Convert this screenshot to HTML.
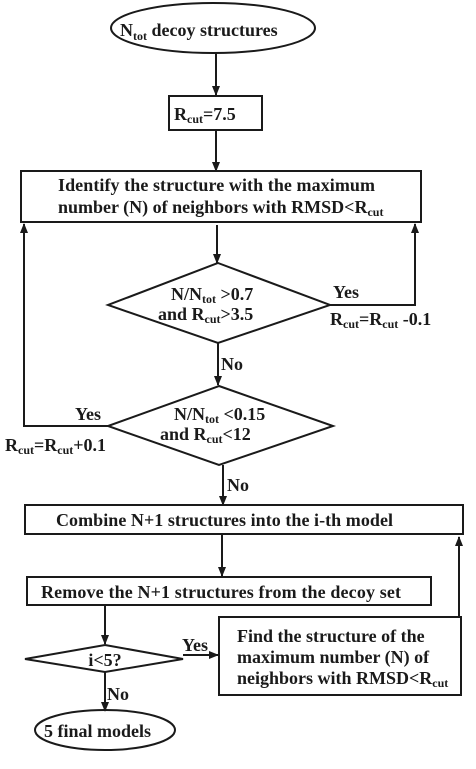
<!DOCTYPE html>
<html><head><meta charset="utf-8"><style>
html,body{margin:0;padding:0;background:#fff;}
svg{display:block;}
text{font-family:"Liberation Serif",serif;font-weight:bold;font-size:18px;fill:#1a1a1a;}
.s{font-size:12px;}
</style></head><body>
<svg width="476" height="769" viewBox="0 0 476 769" xmlns="http://www.w3.org/2000/svg">
<defs><marker id="a" markerWidth="10" markerHeight="10" refX="9" refY="5" orient="auto" markerUnits="userSpaceOnUse"><path d="M0,1 L10,5 L0,9 z" fill="#1a1a1a"/></marker></defs>
<g stroke="#1a1a1a" stroke-width="2" fill="none">
<ellipse cx="213" cy="28" rx="102" ry="25"/>
<line x1="216" y1="53" x2="216" y2="95" marker-end="url(#a)"/>
<rect x="169" y="96" width="93" height="34"/>
<line x1="216" y1="130" x2="216" y2="171" marker-end="url(#a)"/>
<rect x="21" y="171" width="400" height="51"/>
<line x1="217" y1="225" x2="217" y2="263" marker-end="url(#a)"/>
<polygon points="218,263 330,305 218,343 108,305"/>
<polyline points="330,305 415,305 415,224" marker-end="url(#a)"/>
<line x1="218" y1="343" x2="218" y2="385" marker-end="url(#a)"/>
<polygon points="219,386 333,426 219,465 108,426"/>
<polyline points="108,426 24,426 24,224" marker-end="url(#a)"/>
<line x1="223" y1="465" x2="223" y2="505" marker-end="url(#a)"/>
<rect x="25" y="505" width="438" height="29"/>
<line x1="222" y1="534" x2="222" y2="576" marker-end="url(#a)"/>
<rect x="27" y="577" width="404" height="28"/>
<line x1="105" y1="605" x2="105" y2="644" marker-end="url(#a)"/>
<polygon points="105,645 183,659 105,672 25,659"/>
<line x1="183" y1="655" x2="218" y2="655" marker-end="url(#a)"/>
<rect x="219" y="617" width="242" height="78"/>
<line x1="459" y1="617" x2="459" y2="537" marker-end="url(#a)"/>
<line x1="105" y1="672" x2="105" y2="711" marker-end="url(#a)"/>
<ellipse cx="105" cy="730" rx="70" ry="20"/>
</g>
<text x="120" y="36">N<tspan class="s" dy="4">tot</tspan><tspan dy="-4">  decoy structures</tspan></text>
<text x="174" y="120">R<tspan class="s" dy="3">cut</tspan><tspan dy="-3">=7.5</tspan></text>
<text x="58" y="191" textLength="317">Identify the structure with the maximum</text>
<text x="58" y="213">number (N) of neighbors with RMSD&lt;R<tspan class="s" dy="3">cut</tspan></text>
<text x="171" y="300">N/N<tspan class="s" dy="3">tot</tspan><tspan dy="-3"> &gt;0.7</tspan></text>
<text x="158" y="320">and R<tspan class="s" dy="3">cut</tspan><tspan dy="-3">&gt;3.5</tspan></text>
<text x="333" y="298">Yes</text>
<text x="330" y="325">R<tspan class="s" dy="3">cut</tspan><tspan dy="-3">=R</tspan><tspan class="s" dy="3">cut</tspan><tspan dy="-3"> -0.1</tspan></text>
<text x="221" y="370">No</text>
<text x="174" y="420">N/N<tspan class="s" dy="3">tot</tspan><tspan dy="-3"> &lt;0.15</tspan></text>
<text x="160" y="440">and R<tspan class="s" dy="3">cut</tspan><tspan dy="-3">&lt;12</tspan></text>
<text x="75" y="420">Yes</text>
<text x="5" y="451">R<tspan class="s" dy="3">cut</tspan><tspan dy="-3">=R</tspan><tspan class="s" dy="3">cut</tspan><tspan dy="-3">+0.1</tspan></text>
<text x="227" y="491">No</text>
<text x="56" y="526" textLength="337">Combine N+1 structures into the i-th model</text>
<text x="41" y="598" textLength="360">Remove the N+1 structures from the decoy set</text>
<text x="105" y="666" text-anchor="middle">i&lt;5?</text>
<text x="182" y="651">Yes</text>
<text x="237" y="642">Find the structure of the</text>
<text x="237" y="663">maximum number (N) of</text>
<text x="237" y="684">neighbors with RMSD&lt;R<tspan class="s" dy="3">cut</tspan></text>
<text x="107" y="700">No</text>
<text x="44" y="737">5 final models</text>
</svg>
</body></html>
